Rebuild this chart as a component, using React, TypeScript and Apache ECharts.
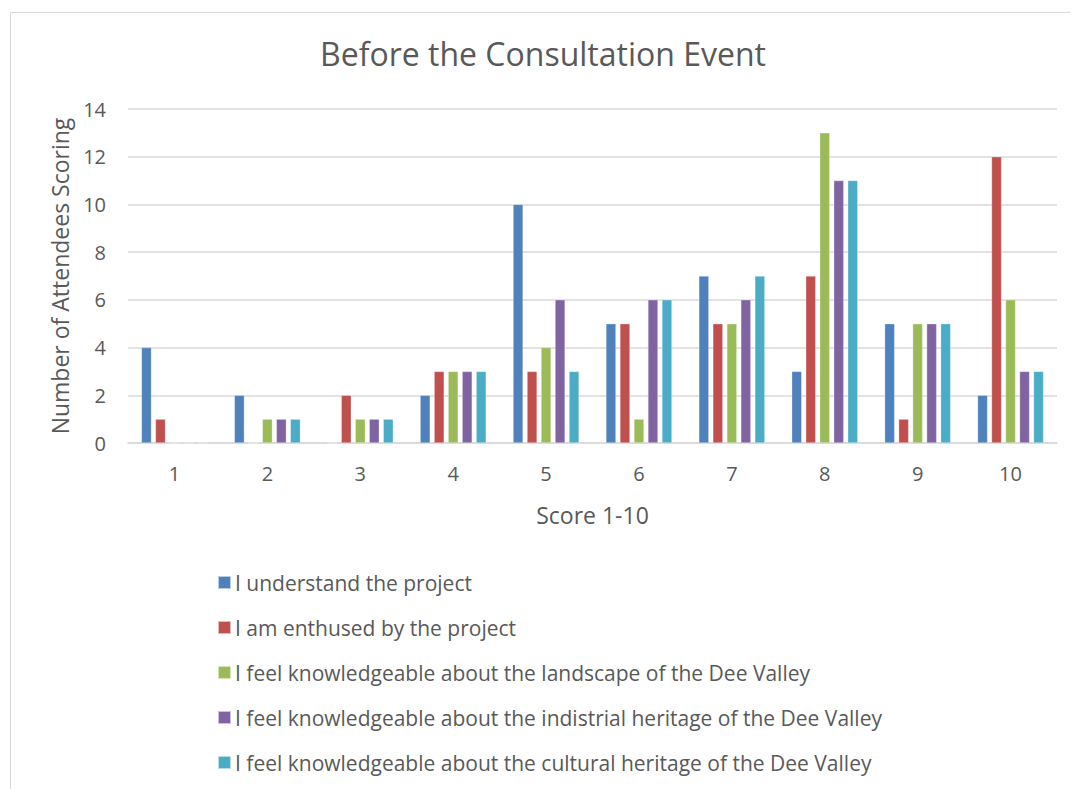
import React, { useEffect, useRef } from "react";
import * as echarts from "echarts";

const categories = ["1", "2", "3", "4", "5", "6", "7", "8", "9", "10"];
const seriesNames = [
  "I understand the project",
  "I am enthused by the project",
  "I feel knowledgeable about the landscape of the Dee Valley",
  "I feel knowledgeable about the indistrial heritage of the Dee Valley",
  "I feel knowledgeable about the cultural heritage of the Dee Valley",
];
const understand = [4, 2, 0, 2, 10, 5, 7, 3, 5, 2];
const enthused = [1, 0, 2, 3, 3, 5, 5, 7, 1, 12];
const landscape = [0, 1, 1, 3, 4, 1, 5, 13, 5, 6];
const industrial = [0, 1, 1, 3, 6, 6, 6, 11, 5, 3];
const cultural = [0, 1, 1, 3, 3, 6, 7, 11, 5, 3];
const seriesData = [understand, enthused, landscape, industrial, cultural];
const colors = ["#4F81BD", "#C0504D", "#9BBB59", "#8064A2", "#4BACC6"];

const FONT = "'Open Sans', 'Noto Sans', sans-serif";
const GRAY = "#595959";

export default function App() {
  const ref = useRef<HTMLDivElement>(null);
  useEffect(() => {
    if (!ref.current) return;
    const chart = echarts.init(ref.current, null, { renderer: "svg" });
    chart.setOption({
      animation: false,
      color: colors,
      textStyle: { fontFamily: FONT },
      title: {
        text: "Before the Consultation Event",
        left: "center",
        top: 24,
        textStyle: { fontFamily: FONT, fontSize: 32, fontWeight: "normal", color: GRAY },
      },
      graphic: [
        {
          type: "rect",
          left: 0,
          top: 2,
          shape: { width: 1200, height: 900 },
          style: { fill: "none", stroke: "#d9d9d9", lineWidth: 1 },
          silent: true,
        },
      ],
      grid: { left: 120, right: 21, top: 101, bottom: 346 },
      xAxis: {
        type: "category",
        data: categories,
        name: "Score 1-10",
        nameLocation: "middle",
        nameGap: 60,
        nameTextStyle: { fontFamily: FONT, fontSize: 23, color: GRAY },
        axisLine: { lineStyle: { color: "#d9d9d9", width: 1.5 } },
        axisTick: { show: false },
        axisLabel: { fontFamily: FONT, fontSize: 20, color: GRAY, margin: 20 },
      },
      yAxis: {
        type: "value",
        min: 0,
        max: 14,
        interval: 2,
        name: "Number of Attendees Scoring",
        nameLocation: "middle",
        nameGap: 57,
        nameTextStyle: { fontFamily: FONT, fontSize: 23, color: GRAY },
        axisLine: { show: false },
        axisTick: { show: false },
        axisLabel: { fontFamily: FONT, fontSize: 20, color: GRAY, margin: 22 },
        splitLine: { lineStyle: { color: "#d9d9d9", width: 1.5 } },
      },
      legend: {
        orient: "vertical",
        left: 204,
        top: 557,
        height: 240,
        itemWidth: 13,
        itemHeight: 13,
        itemGap: 20,
        icon: "rect",
        textStyle: { fontFamily: FONT, fontSize: 21, color: GRAY, lineHeight: 25, padding: [0, 0, 0, -1] },
        data: seriesNames,
      },
      series: seriesNames.map((name, i) => ({
        name,
        type: "bar",
        data: seriesData[i],
        barWidth: 10,
        barGap: "40%",
        itemStyle: { color: colors[i], borderColor: "rgba(255,255,255,0.6)", borderWidth: 0.5 },
      })),
    });
    return () => chart.dispose();
  }, []);
  return <div ref={ref} style={{ width: 1070, height: 781 }} />;
}
